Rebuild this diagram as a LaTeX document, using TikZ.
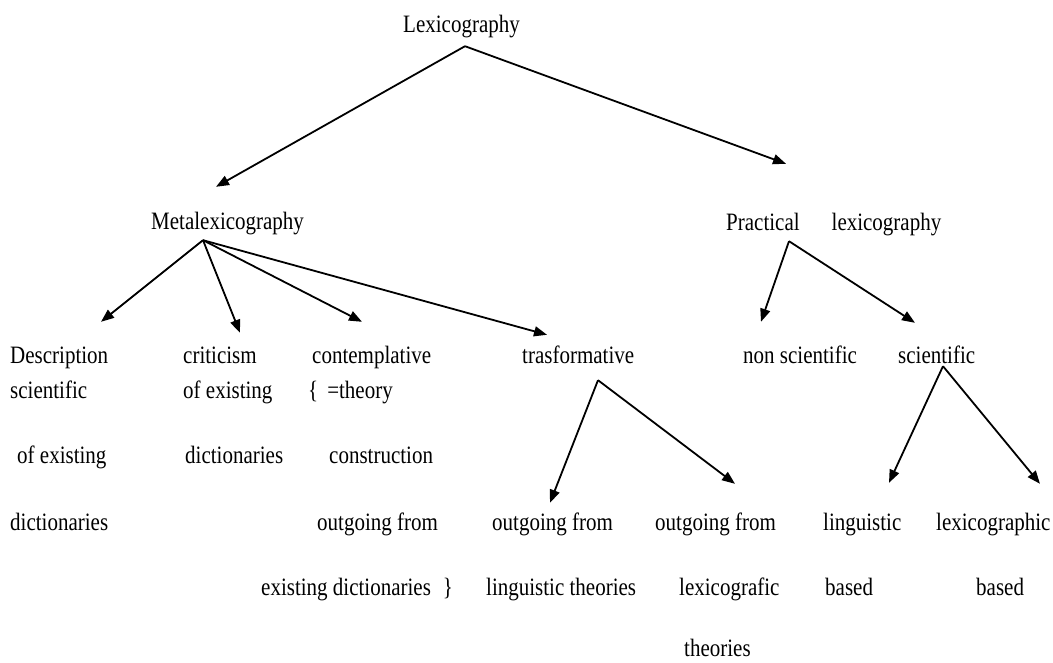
\documentclass[tikz,border=0pt]{standalone}
\usepackage{fontspec}
\setmainfont{Liberation Serif}[FakeStretch=0.84]
\usetikzlibrary{arrows.meta}

\begin{document}
\begin{tikzpicture}[x=1pt, y=-1pt,
		every node/.style={inner sep=0pt, anchor=base west, text height=18pt, text depth=6pt, font=\fontsize{25pt}{30pt}\selectfont},
		arr/.style={line width=1.8pt, -{Triangle[length=13pt, width=10pt]}}]
			\useasboundingbox (0,0) rectangle (1053,663);

			\node (lex) at (403,33) {Lexicography};
			\node (meta) at (151,230) {Metalexicography};
			\node (prac) at (726,231) {Practical\hspace{32pt}lexicography};

			\node (desc1) at (10,363) {Description};
			\node (desc2) at (10,398) {scientific};
			\node (desc3) at (17,463) {of existing};
			\node (desc4) at (10,530) {dictionaries};

			\node (crit1) at (183,363) {criticism};
			\node (crit2) at (183,398) {of existing};
			\node (crit3) at (185,463) {dictionaries};

			\node (cont1) at (312,363) {contemplative};
			\node (cont2) at (308,398) {\{\hspace{9pt}=theory};
			\node (cont3) at (329,463) {construction};
			\node (cont4) at (317,530) {outgoing from};
			\node (cont5) at (261,595) {existing dictionaries\hspace{12pt}\}};

			\node (trans) at (522,363) {trasformative};
			\node (lin1) at (492,530) {outgoing from};
			\node (lin2) at (486,595) {linguistic theories};
			\node (lexi1) at (655,530) {outgoing from};
			\node (lexi2) at (679,595) {lexicografic};
			\node[text depth=0pt] (lexi3) at (684,656) {theories};

			\node (nonsci) at (743,363) {non scientific};
			\node (sci) at (898,363) {scientific};
			\node (ling1) at (823,530) {linguistic};
			\node (ling2) at (825,595) {based};
			\node (lexb1) at (936,530) {lexicographic};
			\node (lexb2) at (976,595) {based};

			\draw[arr] ([xshift=62pt,yshift=-7pt]lex.south west) -- ([xshift=65pt,yshift=25pt]meta.north west);
			\draw[arr] ([xshift=62pt,yshift=-7pt]lex.south west) -- ([xshift=60pt,yshift=49pt]prac.north west);

			\draw[arr] ([xshift=52pt,yshift=-4pt]meta.south west) -- ([xshift=91pt,yshift=23pt]desc1.north west);
			\draw[arr] ([xshift=52pt,yshift=-4pt]meta.south west) -- ([xshift=57pt,yshift=12pt]crit1.north west);
			\draw[arr] ([xshift=52pt,yshift=-4pt]meta.south west) -- ([xshift=50pt,yshift=23pt]cont1.north west);
			\draw[arr] ([xshift=52pt,yshift=-4pt]meta.south west) -- ([xshift=25pt,yshift=10pt]trans.north west);

			\draw[arr] ([xshift=63pt,yshift=-4pt]prac.south west) -- ([xshift=18pt,yshift=23pt]nonsci.north west);
			\draw[arr] ([xshift=63pt,yshift=-4pt]prac.south west) -- ([xshift=17pt,yshift=22pt]sci.north west);

			\draw[arr] ([xshift=76pt,yshift=-11pt]trans.south west) -- ([xshift=58pt,yshift=9pt]lin1.north west);
			\draw[arr] ([xshift=76pt,yshift=-11pt]trans.south west) -- ([xshift=80pt,yshift=28pt]lexi1.north west);

			\draw[arr] ([xshift=45pt,yshift=3pt]sci.south west) -- ([xshift=66pt,yshift=29pt]ling1.north west);
			\draw[arr] ([xshift=45pt,yshift=3pt]sci.south west) -- ([xshift=104pt,yshift=28pt]lexb1.north west);
		\end{tikzpicture}
\end{document}
